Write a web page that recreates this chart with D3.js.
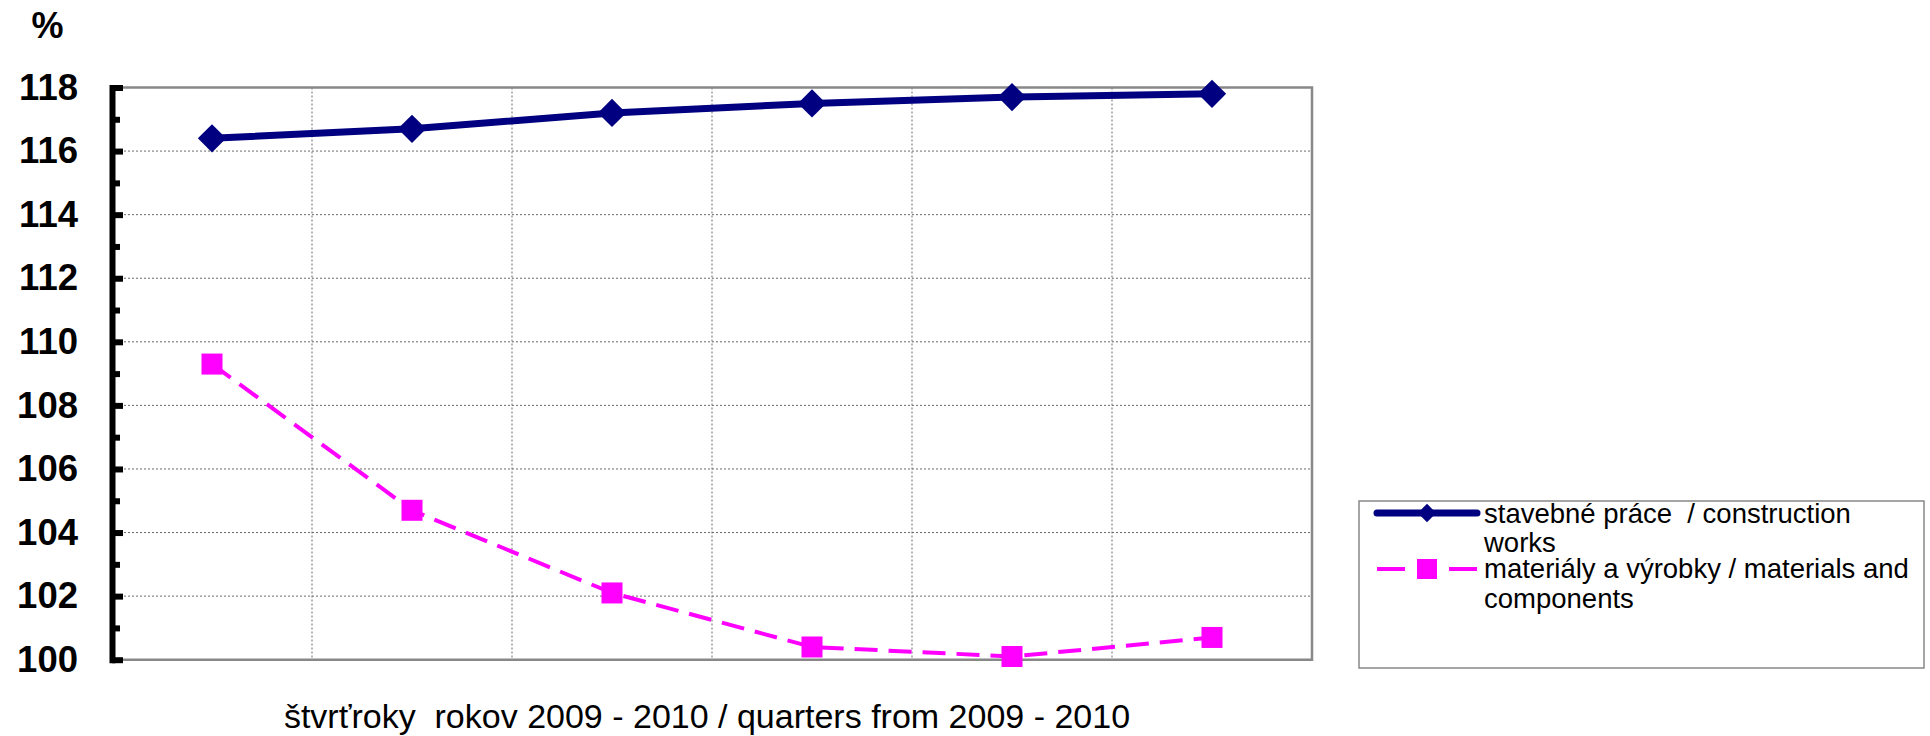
<!DOCTYPE html>
<html>
<head>
<meta charset="utf-8">
<script src="https://cdn.jsdelivr.net/npm/d3@7"></script>
<style>
  body { margin: 0; background: #fff; }
  text { font-family: "Liberation Sans", Arial, sans-serif; white-space: pre; }
</style>
</head>
<body>
<script>
// data
var quarters = ["1Q 2009", "2Q 2009", "3Q 2009", "4Q 2009", "1Q 2010", "2Q 2010"];
var construction = [116.4, 116.7, 117.2, 117.5, 117.7, 117.8];
var materials = [109.3, 104.7, 102.1, 100.4, 100.1, 100.7];
var majorTicks = [100, 102, 104, 106, 108, 110, 112, 114, 116, 118];
var minorTicks = [101, 103, 105, 107, 109, 111, 113, 115, 117];
var seriesNames = [
  ["stavebné práce  / construction", "works"],
  ["materiály a výrobky / materials and", "components"]
];
var yUnit = "%";
var xTitle = "štvrťroky  rokov 2009 - 2010 / quarters from 2009 - 2010";

// basic settings
var w = 1930;
var h = 736;
var plotL = 112, plotR = 1312, plotT = 87.5, plotB = 659.7;
var navy = "#000080";
var pink = "#ff00ff";

var svg = d3.select("body")
  .append("svg")
  .attr("width", w)
  .attr("height", h);

var x = d3.scaleBand()
  .domain(quarters)
  .range([plotL, plotR]);

var y = d3.scaleLinear()
  .domain([100, 118])
  .range([plotB, plotT]);

// grid lines (dotted)
svg.append("g")
  .selectAll("line")
  .data(majorTicks.slice(1, -1))
  .enter()
  .append("line")
  .attr("x1", plotL)
  .attr("x2", plotR)
  .attr("y1", function(d){ return y(d); })
  .attr("y2", function(d){ return y(d); })
  .attr("stroke", "#6a6a6a")
  .attr("stroke-width", 1)
  .attr("stroke-dasharray", "2,2");

svg.append("g")
  .selectAll("line")
  .data(quarters.slice(1))
  .enter()
  .append("line")
  .attr("x1", function(d){ return x(d); })
  .attr("x2", function(d){ return x(d); })
  .attr("y1", plotT)
  .attr("y2", plotB)
  .attr("stroke", "#6a6a6a")
  .attr("stroke-width", 1)
  .attr("stroke-dasharray", "2,2");

// plot frame (top, right, bottom)
svg.append("path")
  .attr("d", "M" + plotL + "," + y(118) + "H" + plotR + "V" + y(100) + "H" + plotL)
  .attr("fill", "none")
  .attr("stroke", "#888")
  .attr("stroke-width", 2.5);

// y axis
var yAxis = d3.axisLeft(y)
  .tickValues(majorTicks)
  .tickSizeInner(-11)
  .tickSizeOuter(0)
  .tickPadding(34)
  .tickFormat(d3.format("d"));

var gy = svg.append("g")
  .attr("transform", "translate(" + plotL + ",0)")
  .call(yAxis);
gy.select(".domain")
  .attr("stroke", "#000")
  .attr("stroke-width", 6)
  .attr("stroke-linecap", "square");
gy.selectAll(".tick line")
  .attr("stroke", "#000")
  .attr("stroke-width", 6);
gy.selectAll(".tick text")
  .attr("fill", "#000")
  .style("font-size", "36.5px")
  .style("font-weight", "bold")
  .style("font-family", "'Liberation Sans', Arial, sans-serif");

var gyMinor = svg.append("g")
  .attr("transform", "translate(" + plotL + ",0)")
  .call(d3.axisLeft(y).tickValues(minorTicks).tickSizeInner(-8).tickSizeOuter(0).tickFormat(""));
gyMinor.select(".domain").remove();
gyMinor.selectAll(".tick line")
  .attr("stroke", "#000")
  .attr("stroke-width", 6);

svg.append("text")
  .attr("x", 47.5)
  .attr("y", 38)
  .attr("text-anchor", "middle")
  .style("font-size", "36px")
  .style("font-weight", "bold")
  .text(yUnit);

// x title
svg.append("text")
  .attr("x", 707)
  .attr("y", 728)
  .attr("text-anchor", "middle")
  .style("font-size", "34px")
  .text(xTitle);

// series lines
var line = d3.line()
  .x(function(d, i){ return x(quarters[i]) + x.bandwidth() / 2; })
  .y(function(d){ return y(d); });

svg.append("path")
  .datum(materials)
  .attr("d", line)
  .attr("fill", "none")
  .attr("stroke", pink)
  .attr("stroke-width", 4)
  .attr("stroke-dasharray", "23,11");

svg.append("g")
  .selectAll("rect")
  .data(materials)
  .enter()
  .append("rect")
  .attr("x", function(d, i){ return x(quarters[i]) + x.bandwidth() / 2 - 10.5; })
  .attr("y", function(d){ return y(d) - 10.5; })
  .attr("width", 21)
  .attr("height", 21)
  .attr("fill", pink);

svg.append("path")
  .datum(construction)
  .attr("d", line)
  .attr("fill", "none")
  .attr("stroke", navy)
  .attr("stroke-width", 7);

var diamond = d3.symbol().type(d3.symbolSquare).size(20 * 20);
svg.append("g")
  .selectAll("path")
  .data(construction)
  .enter()
  .append("path")
  .attr("d", diamond)
  .attr("transform", function(d, i){
    return "translate(" + (x(quarters[i]) + x.bandwidth() / 2) + "," + y(d) + ") rotate(45)";
  })
  .attr("fill", navy);

// legend
var lg = svg.append("g");
lg.append("rect")
  .attr("x", 1359)
  .attr("y", 501)
  .attr("width", 565)
  .attr("height", 167)
  .attr("fill", "#fff")
  .attr("stroke", "#888")
  .attr("stroke-width", 1.5);

lg.append("line")
  .attr("x1", 1377).attr("x2", 1477)
  .attr("y1", 513).attr("y2", 513)
  .attr("stroke", navy)
  .attr("stroke-width", 7)
  .attr("stroke-linecap", "round");
lg.append("path")
  .attr("d", d3.symbol().type(d3.symbolSquare).size(13 * 13))
  .attr("transform", "translate(1427,513) rotate(45)")
  .attr("fill", navy);

lg.append("line")
  .attr("x1", 1377).attr("x2", 1477)
  .attr("y1", 569).attr("y2", 569)
  .attr("stroke", pink)
  .attr("stroke-width", 4)
  .attr("stroke-dasharray", "28,44,28");
lg.append("rect")
  .attr("x", 1417).attr("y", 559)
  .attr("width", 20).attr("height", 20)
  .attr("fill", pink);

var baselines = [[523, 552], [578, 608]];
seriesNames.forEach(function(lines, k){
  lines.forEach(function(t, j){
    lg.append("text")
      .attr("x", 1484)
      .attr("y", baselines[k][j])
      .style("font-size", "27.5px")
      .text(t);
  });
});
</script>
</body>
</html>
